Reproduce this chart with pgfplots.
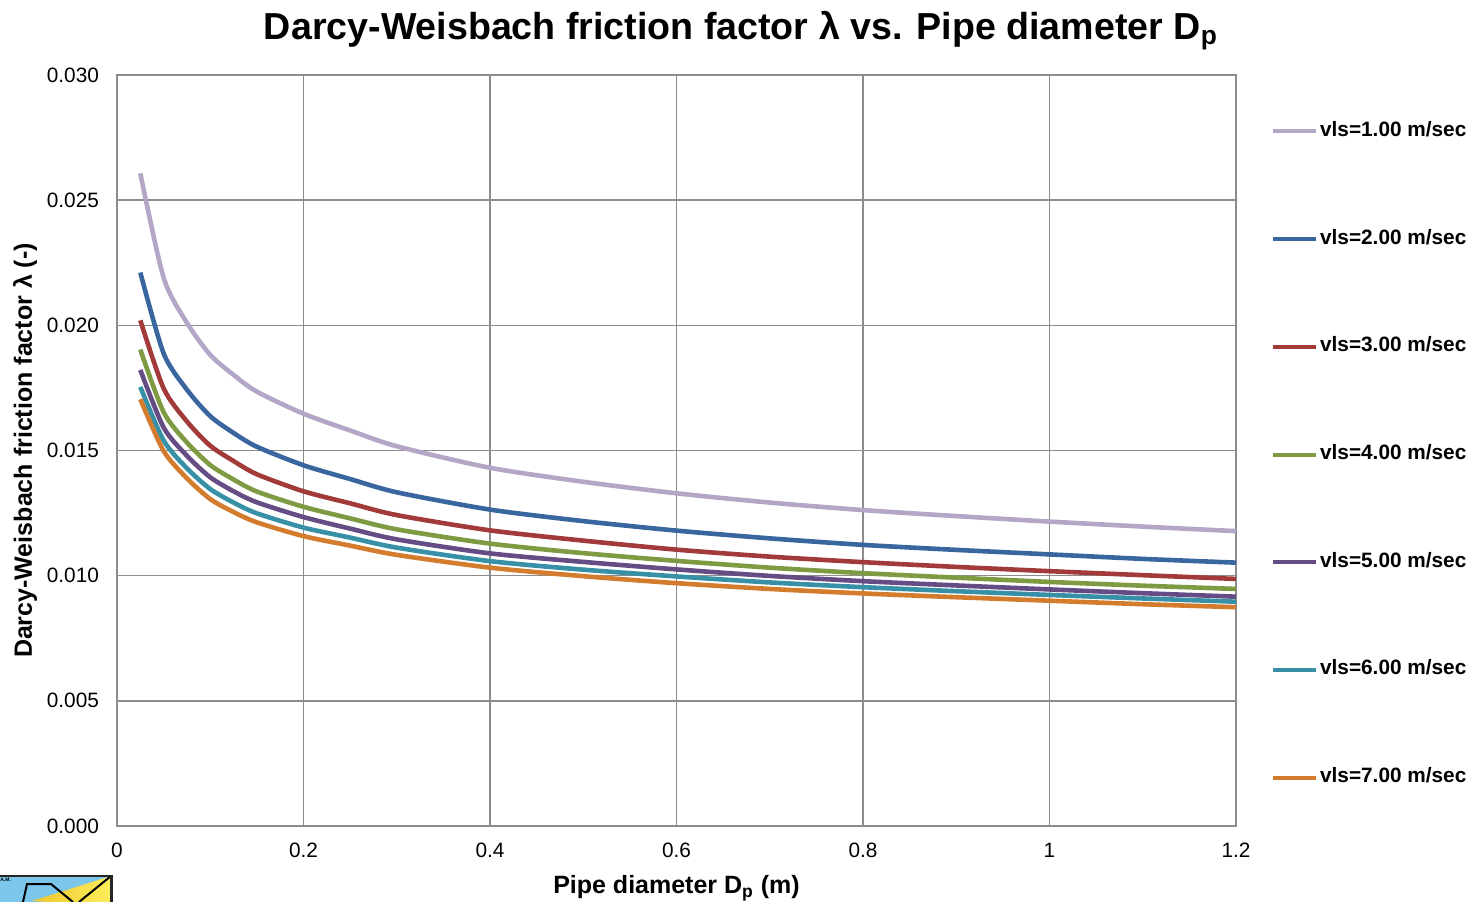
\documentclass[border=0pt]{standalone}
\usepackage{pgfplots}
\pgfplotsset{compat=1.18}
\usepackage{pgfplotstable}
\usepackage{fontspec}
\setmainfont{Liberation Sans}

\definecolor{cA}{HTML}{B3A6C6}
\definecolor{cB}{HTML}{3A66A0}
\definecolor{cC}{HTML}{A33A3A}
\definecolor{cD}{HTML}{7E9B43}
\definecolor{cE}{HTML}{664C85}
\definecolor{cF}{HTML}{3890A6}
\definecolor{cG}{HTML}{D47C2E}
\definecolor{gridgray}{HTML}{8C8C8C}
\definecolor{badgesky}{HTML}{7CC6EC}
\definecolor{badgegold}{HTML}{EFC62E}
\definecolor{badgelight}{HTML}{FBEE5A}

% Friction factor lambda (-) against pipe diameter D (m), one column per line speed
\pgfplotstableread{
D     v1      v2      v3      v4      v5      v6      v7
0.025 0.02607 0.02211 0.02020 0.01903 0.01822 0.01754 0.01705
0.05  0.02190 0.01888 0.01748 0.01653 0.01592 0.01540 0.01498
0.075 0.02010 0.01743 0.01616 0.01532 0.01479 0.01429 0.01389
0.1   0.01882 0.01637 0.01519 0.01442 0.01393 0.01346 0.01306
0.125 0.01802 0.01570 0.01458 0.01384 0.01337 0.01292 0.01254
0.15  0.01735 0.01515 0.01405 0.01336 0.01293 0.01249 0.01213
0.2   0.01647 0.01441 0.01337 0.01275 0.01234 0.01192 0.01158
0.25  0.01580 0.01386 0.01289 0.01229 0.01188 0.01152 0.01120
0.3   0.01517 0.01333 0.01242 0.01185 0.01145 0.01112 0.01083
0.4   0.01431 0.01264 0.01181 0.01128 0.01089 0.01058 0.01032
0.5   0.01375 0.01218 0.01140 0.01090 0.01055 0.01024 0.00998
0.6   0.01329 0.01180 0.01104 0.01059 0.01025 0.00997 0.00970
0.7   0.01292 0.01149 0.01076 0.01032 0.00999 0.00973 0.00947
0.8   0.01262 0.01123 0.01054 0.01010 0.00978 0.00954 0.00929
0.9   0.01238 0.01103 0.01035 0.00992 0.00961 0.00938 0.00914
1.0   0.01216 0.01085 0.01018 0.00975 0.00945 0.00923 0.00900
1.1   0.01196 0.01067 0.01002 0.00960 0.00930 0.00909 0.00886
1.2   0.01178 0.01052 0.00987 0.00947 0.00916 0.00896 0.00874
}\lambdatable

\begin{document}
\begin{tikzpicture}
\path[use as bounding box] (-58.5pt,-37.5pt) rectangle (681.5pt,413pt);
\begin{axis}[
  scale only axis,
  width=559.5pt, height=375.5pt,
  xmin=0, xmax=1.2, ymin=0, ymax=0.030,
  xtick={0,0.2,0.4,0.6,0.8,1,1.2},
  xticklabels={0,0.2,0.4,0.6,0.8,1,1.2},
  ytick={0,0.005,0.010,0.015,0.020,0.025,0.030},
  yticklabel style={/pgf/number format/fixed, /pgf/number format/fixed zerofill,
    /pgf/number format/precision=3, /pgf/number format/assume math mode=true, xshift=-5.5pt},
  scaled y ticks=false,
  tick style={draw=none},
  ticklabel style={font=\fontsize{10.4}{12}\selectfont},
  xticklabel style={yshift=-5pt},
  grid=major,
  major grid style={gridgray, line width=0.75pt},
  axis line style={gridgray, line width=0.75pt},
  title={\bfseries Darcy-Weisbach friction factor λ vs. Pipe diameter D\textsubscript{p}},
  title style={font=\fontsize{18.8}{22}\selectfont, at={(axis description cs:0.5576,1.0666)}, anchor=center, yshift=-9pt},
  xlabel={\bfseries Pipe diameter D\textsubscript{p} (m)},
  xlabel style={font=\fontsize{12.5}{15}\selectfont, at={(axis description cs:0.5,-0.0826)}, anchor=center},
  ylabel={\bfseries Darcy-Weisbach friction factor λ (-)},
  ylabel style={font=\fontsize{12.5}{15}\selectfont, at={(axis description cs:-0.0822,0.5)}, anchor=center},
  legend cell align=left,
  legend image code/.code={\draw[#1, line width=2pt] (0pt,0pt) -- (21.5pt,0pt);},
  legend style={draw=none, fill=none, at={(axis description cs:1.031,0.940)}, anchor=north west,
    font=\bfseries\fontsize{10.4}{12}\selectfont, row sep=42.85pt, inner sep=0pt,
    nodes={inner sep=1pt, text height=7pt, text depth=2pt}},
  every axis plot/.append style={line width=2.3pt, smooth, tension=0.45},
]
\addplot[cA] table[x=D, y=v1] {\lambdatable};
\addlegendentry{vls=1.00 m/sec}
\addplot[cB] table[x=D, y=v2] {\lambdatable};
\addlegendentry{vls=2.00 m/sec}
\addplot[cC] table[x=D, y=v3] {\lambdatable};
\addlegendentry{vls=3.00 m/sec}
\addplot[cD] table[x=D, y=v4] {\lambdatable};
\addlegendentry{vls=4.00 m/sec}
\addplot[cE] table[x=D, y=v5] {\lambdatable};
\addlegendentry{vls=5.00 m/sec}
\addplot[cF] table[x=D, y=v6] {\lambdatable};
\addlegendentry{vls=6.00 m/sec}
\addplot[cG] table[x=D, y=v7] {\lambdatable};
\addlegendentry{vls=7.00 m/sec}
\end{axis}
% small badge in the lower left corner
\begin{scope}
  \clip (-58.5pt,-37.5pt) rectangle (-2pt,-24.5pt);
  \fill[badgesky] (-58.5pt,-24pt) rectangle (-2.5pt,-40pt);
  \shade[left color=badgegold, right color=badgelight]
    (-42.5pt,-37.5pt) -- (-3pt,-25pt) -- (-3pt,-40pt) -- cycle;
  \draw[black, line width=1pt] (-47pt,-38pt) -- (-45pt,-29pt) -- (-33pt,-29pt) -- (-22pt,-38pt);
  \draw[black, line width=1pt] (-3pt,-25pt) -- (-19pt,-38pt);
  \node[anchor=west, inner sep=0pt, font=\bfseries\fontsize{2.5}{3}\selectfont] at (-58.5pt,-27pt) {A.M.};
  \draw[black!85, line width=1.5pt] (-60pt,-24.5pt) -- (-2.5pt,-24.5pt) -- (-2.5pt,-40pt);
\end{scope}
\end{tikzpicture}
\end{document}
